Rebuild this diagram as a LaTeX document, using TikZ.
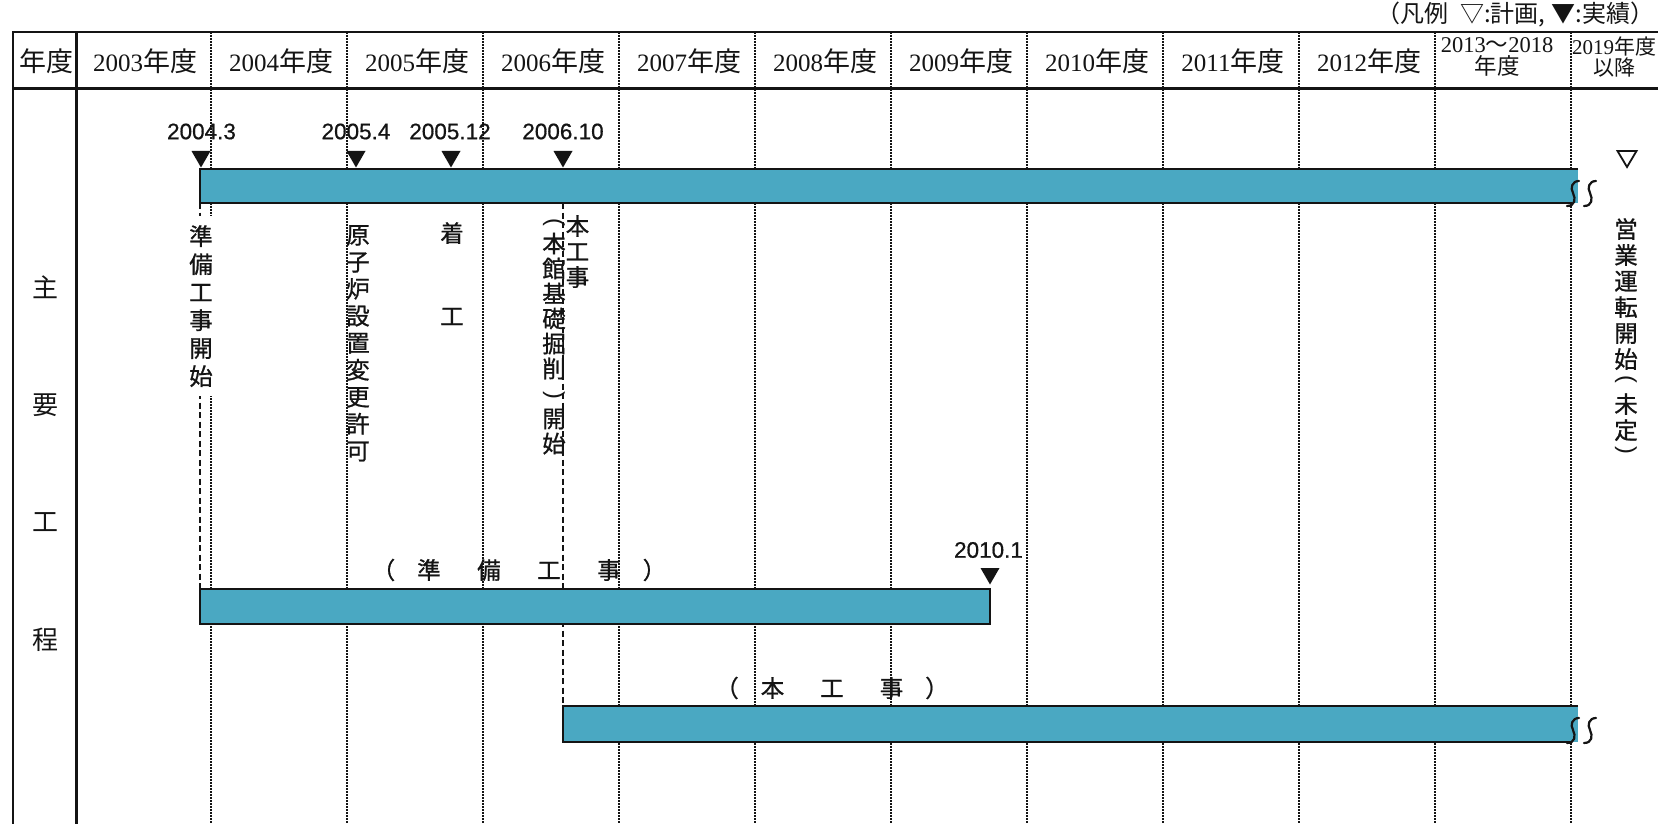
\documentclass[tikz,border=0pt]{standalone}
\usepackage{fontspec}
\usepackage{graphicx}
\setmainfont{Liberation Serif}
\newfontfamily\cjk{Noto Sans CJK JP}
\newfontfamily\cjkb[FakeBold=0.8]{Noto Sans CJK JP}
\newfontfamily\lsans{Liberation Sans}
\newfontfamily\lsansb[FakeBold=0.6]{Liberation Sans}
\definecolor{barblue}{RGB}{74,168,194}
\definecolor{ink}{RGB}{20,20,20}
\newcommand\vlp{\rotatebox[origin=c]{-90}{\lsans(}}
\newcommand\vrp{\rotatebox[origin=c]{-90}{\lsans)}}
\newcommand\hk[1]{{\cjk\fontsize{27}{28}\selectfont #1}}
\tikzset{
 barfill/.style={fill=barblue},
 barline/.style={draw=ink,line width=1.6pt},
 yeardiv/.style={draw=ink,line width=2.1pt,dash pattern=on 1.6pt off 1.4pt},
 tline/.style={draw=ink,line width=2.4pt},
 mdash/.style={draw=ink,line width=1.3pt,dash pattern=on 6pt off 3.5pt},
 brk/.style={draw=ink,line width=2.2pt,line cap=round},
 mlab/.style={font=\lsansb\fontsize{22.5}{24}\selectfont,inner sep=0pt,text=ink},
 hdr/.style={font=\fontsize{25}{26}\selectfont,inner sep=0pt,text=ink},
 hdrs/.style={font=\fontsize{22.5}{21.5}\selectfont,inner sep=0pt,align=center,text=ink},
 vt/.style={font=\cjkb\fontsize{23.5}{#1}\selectfont,align=center,inner sep=0pt,anchor=north,text=ink},
 cj/.style={font=\cjkb\fontsize{23.5}{26}\selectfont,inner sep=0pt,text=ink},
 rowlab/.style={font=\cjk\fontsize{26}{26}\selectfont,inner sep=0pt,text=ink},
 dtri/.pic={\fill[ink] (-9.5,0) -- (9.5,0) -- (0,16.5) -- cycle;},
 otri/.pic={\draw[ink,line width=1.8pt,line join=miter] (-9.5,1) -- (9.5,1) -- (0,17) -- cycle;},
}
\begin{document}
\begin{tikzpicture}[x=1pt,y=-1pt]
\useasboundingbox (0,0) rectangle (1658,824);
\clip (0,0) rectangle (1658,824);
\fill[white] (0,0) rectangle (1658,824);

% year dividers (dotted)
\foreach \i in {1,...,11} { \draw[yeardiv] ({75+136*\i},32) -- ({75+136*\i},824); }

% table frame
\draw[tline] (13,824) -- (13,32) -- (1662,32);
\draw[tline] (13,88.5) -- (1662,88.5);
\draw[tline] (76.5,32) -- (76.5,824);

% named coordinates
\coordinate (m1) at (201,151);
\coordinate (m2) at (356,151);
\coordinate (m3) at (451,151);
\coordinate (m4) at (563,151);
\coordinate (m5) at (990,568);
\coordinate (topA) at (200,203);
\coordinate (topB) at (563,203);
\coordinate (prepA) at (200,589);
\coordinate (mainA) at (563,706);

% dashed marker lines
\draw[mdash] (topA) -- (prepA);
\draw[mdash] (topB) -- (mainA);

% bars
\fill[barfill] (200,169) rectangle (1578,203);
\draw[barline] (1578,169) -- (200,169) -- (200,203) -- (1572,203);
\filldraw[barfill,barline] (200,589) rectangle (990,624);
\fill[barfill] (563,706) rectangle (1578,742);
\draw[barline] (1578,706) -- (563,706) -- (563,742) -- (1572,742);

% break marks
\foreach \yy in {181,718} {
  \draw[brk] (1579,\yy) .. controls (1572,\yy) and (1570,\yy+7) .. (1573,\yy+12)
                        .. controls (1576,\yy+18) and (1575,\yy+25) .. (1567,\yy+25);
  \draw[brk] (1596,\yy) .. controls (1589,\yy) and (1587,\yy+7) .. (1590,\yy+12)
                        .. controls (1593,\yy+18) and (1592,\yy+25) .. (1584,\yy+25);
}

% markers
\pic at (m1) {dtri};
\pic at (m2) {dtri};
\pic at (m3) {dtri};
\pic at (m4) {dtri};
\pic at (m5) {dtri};
\pic at (1627,150) {otri};

% marker labels
\node[mlab] (l1) at (201.5,131.5) {2004.3};
\node[mlab] (l2) at (356,131.5) {2005.4};
\node[mlab] (l3) at (450,131.5) {2005.12};
\node[mlab] (l4) at (563,131.5) {2006.10};
\node[mlab] (l5) at (988.5,550) {2010.1};

% header
\node[inner sep=0pt,text=ink] (h0) at (46.5,61) {\hk{年度}};
\foreach \yr [count=\i from 0] in {2003,2004,2005,2006,2007,2008,2009,2010,2011,2012}
  \node[hdr] (h\yr) at ({145+136*\i},61) {\yr\hk{年度}};
\node[hdrs] (h2013) at (1497,57) {2013{\cjk ～}2018\\{\cjk 年度}};
\node[hdrs,font=\fontsize{21}{21.5}\selectfont] (h2019) at (1614,57) {2019{\cjk 年度}\\{\cjk 以降}};

% legend
\node[font=\cjk\fontsize{24}{25}\selectfont,anchor=west,inner sep=0pt,text=ink] (leg) at (1376,15) {（凡例\hspace{12pt}▽:計画,\hspace{6pt}▼:実績）};

% row label
\node[rowlab] (s1) at (45,287) {主};
\node[rowlab] (s2) at (45,405) {要};
\node[rowlab] (s3) at (45,522) {工};
\node[rowlab] (s4) at (45,640) {程};

% vertical texts
\node[vt=28,fill=white,inner ysep=9pt,inner xsep=1.5pt] (v1) at (201,216) {準\\備\\工\\事\\開\\始};
\node[vt=27] (v2) at (358,225) {原\\子\\炉\\設\\置\\変\\更\\許\\可};
\node[vt=27] (v3) at (452,222) {着\\[56pt]工};
\node[vt=25.5] (v4) at (577.5,215) {本\\工\\事};
\node[vt=25] (v5) at (554,218) {\vlp\\[-0.7pt]本\\館\\基\\礎\\掘\\削\\[-1.3pt]\vrp\\[1.3pt]開\\始};
\node[vt=26] (v6) at (1626,218) {営\\業\\運\\転\\開\\始\\[-8pt]\vlp\\[1pt]未\\定\\[-8pt]\vrp};

% bar labels
\node[cj] (pl) at (519,570) {（\hspace{22pt}準\hspace{36.5pt}備\hspace{36.5pt}工\hspace{36.5pt}事\hspace{22pt}）};
\node[cj] (ml) at (832,688) {（\hspace{22pt}本\hspace{36pt}工\hspace{36pt}事\hspace{22pt}）};
\end{tikzpicture}
\end{document}
